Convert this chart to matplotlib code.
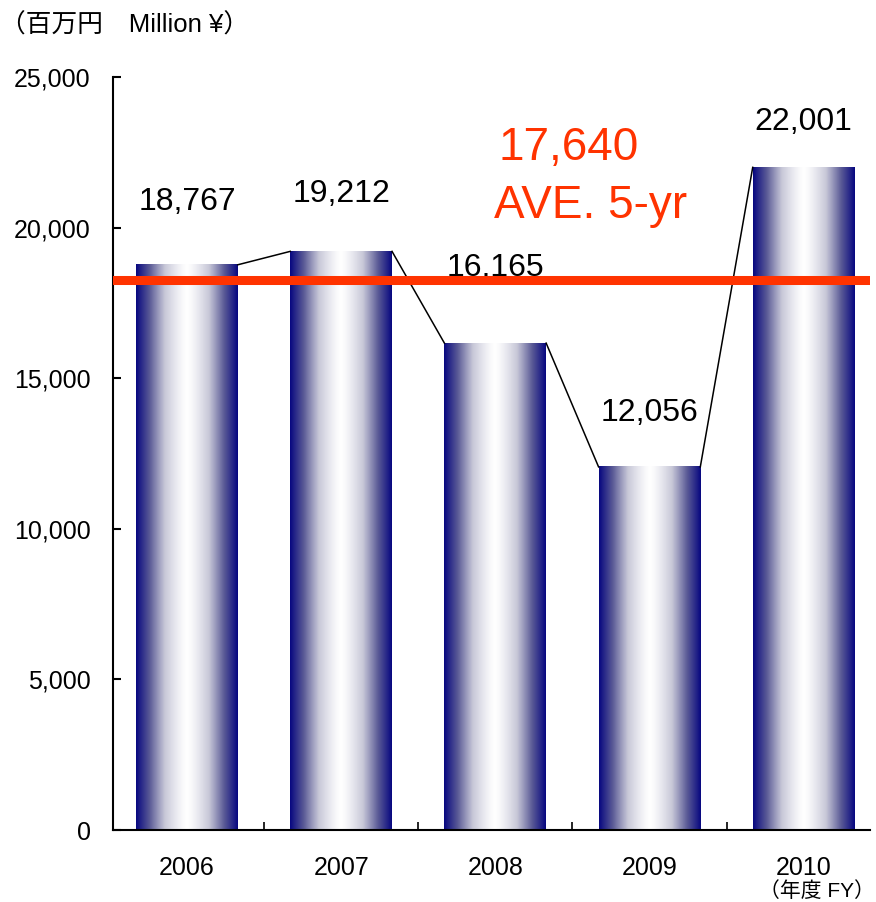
import numpy as np
import matplotlib
matplotlib.use("Agg")
import matplotlib.pyplot as plt
from matplotlib.colors import LinearSegmentedColormap

# data
years = ["2006", "2007", "2008", "2009", "2010"]
sales = [18767, 19212, 16165, 12056, 22001]
avg_line = 18250          # where the red line is drawn in the original
avg_value = "17,640"
avg_label = "AVE. 5-yr"
label_offsets = [45, 41, 54, 39, 33]   # pt above bar top for value labels

plt.rcParams["font.family"] = ["Liberation Sans", "Noto Sans CJK JP", "DejaVu Sans"]

fig = plt.figure(figsize=(8.76, 9.02), dpi=100)
ax = fig.add_axes([0.129, 0.0798, 0.864, 0.8348])

x = np.arange(len(years))
width = 0.66

# navy -> white -> navy gradient for each bar
cmap = LinearSegmentedColormap.from_list("navy_white", ["#ffffff", "#c8c8d8", "#5a5a96", "#080880"])
t = np.linspace(0, 1, 256)
grad = (np.abs(2 * t - 1) ** 1.3)[None, :]

for xi, v in zip(x, sales):
    ax.imshow(grad, extent=[xi - width / 2, xi + width / 2, 0, v],
              aspect="auto", cmap=cmap, vmin=0, vmax=1, zorder=2,
              interpolation="bilinear")

# connect top-right corner of each bar to top-left of the next
for i in range(len(sales) - 1):
    ax.plot([x[i] + width / 2, x[i + 1] - width / 2], [sales[i], sales[i + 1]],
            color="black", lw=1.1, zorder=3)

ax.axhline(avg_line, color="#ff3300", lw=6.5, zorder=4)

for xi, v, off in zip(x, sales, label_offsets):
    ax.annotate(f"{v:,}", (xi, v), xytext=(0, off), textcoords="offset points",
                ha="center", va="center", fontsize=23, zorder=3)

ax.text(2.02, 22244, avg_value, color="#ff3300", fontsize=33, ha="left",
        va="baseline", zorder=5)
ax.text(1.99, 20319, avg_label, color="#ff3300", fontsize=33, ha="left",
        va="baseline", zorder=5)

ax.set_yticks(np.arange(0, 25001, 5000))
ax.set_yticklabels([f"{v:,}" for v in range(0, 25001, 5000)])
ax.set_xticks(x)
ax.set_xticklabels(years)
ax.set_xticks(np.arange(-0.5, 4.6, 1), minor=True)

ax.set_xlim(-0.48, 4.43)
ax.set_ylim(0, 25000)

ax.tick_params(axis="y", direction="in", length=6, width=1.5, labelsize=18, pad=16)
ax.tick_params(axis="x", which="major", length=0, labelsize=18, pad=19)
ax.tick_params(axis="x", which="minor", direction="in", length=6, width=1.2)

for side in ["top", "right"]:
    ax.spines[side].set_visible(False)
for side in ["left", "bottom"]:
    ax.spines[side].set_linewidth(1.5)

fig.text(0.0, 0.972, "（百万円\u3000Million ¥）", fontsize=18.5, ha="left", va="center")
fig.text(0.999, 0.012, "（年度 FY）", fontsize=15, ha="right", va="center")

fig.savefig("out.png", dpi=100, facecolor="white")
